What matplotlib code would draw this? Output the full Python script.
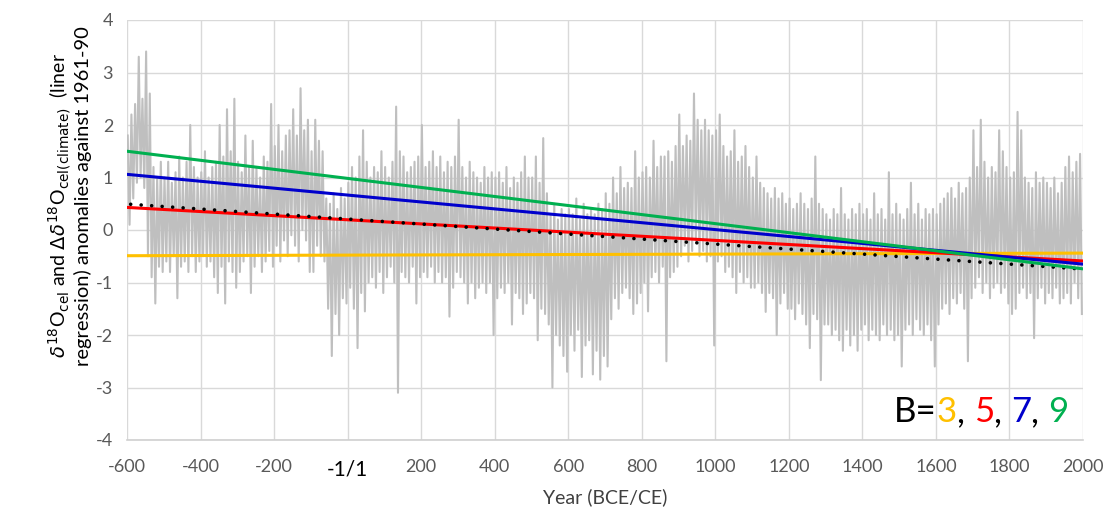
import numpy as np
import matplotlib
matplotlib.use("Agg")
import matplotlib.pyplot as plt
from matplotlib.offsetbox import TextArea, HPacker, AnchoredOffsetbox

# ---------------- data ----------------
decade_start = list(range(-600, 2000, 10))

# decadal upper extremes of the grey annual series
series_hi = [
    1.8, 2.2, 2.4, 3.3, 2.5, 3.4, 2.6, 1.2, 1.0, 1.3,      # -600
    1.0, 1.3, 0.9, 1.1, 1.4, 1.0, 1.3, 2.0, 1.2, 1.0,      # -500
    1.1, 1.5, 1.0, 1.2, 1.3, 2.0, 1.4, 2.3, 1.5, 2.5,      # -400
    1.3, 1.1, 1.8, 1.2, 1.7, 1.2, 1.0, 1.4, 1.3, 2.4,      # -300
    1.6, 2.0, 1.5, 1.8, 1.9, 2.3, 1.8, 2.7, 1.9, 2.1,      # -200
    1.5, 2.1, 1.7, 1.5, 0.6, 0.5, 0.7, 0.4, 0.8, 0.6,      # -100
    0.9, 1.2, 1.0, 1.4, 1.9, 1.3, 1.0, 1.2, 1.1, 1.5,      # 0
    1.2, 1.0, 1.3, 2.35, 1.5, 1.4, 1.1, 1.2, 1.3, 1.4,     # 100
    2.0, 1.2, 1.3, 1.5, 1.2, 1.4, 1.1, 1.3, 1.2, 1.4,      # 200
    2.1, 1.2, 1.0, 1.3, 1.1, 1.0, 0.9, 1.2, 1.0, 1.1,      # 300
    1.0, 1.1, 0.9, 1.2, 0.8, 1.0, 0.9, 1.1, 1.4, 1.0,      # 400
    1.0, 1.4, 0.9, 1.75, 0.7, 0.3, 0.5, 0.2, 0.4, 0.3,     # 500
    0.4, 0.3, 0.6, 0.2, 0.5, 0.3, 0.4, 0.3, 0.5, 0.4,      # 600
    0.7, 0.5, 1.0, 0.7, 1.2, 0.8, 0.9, 0.8, 1.5, 1.0,      # 700
    1.1, 1.2, 1.0, 1.7, 1.2, 1.4, 1.4, 1.5, 1.3, 1.6,      # 800
    2.2, 1.6, 1.8, 1.7, 2.6, 2.1, 1.9, 2.1, 1.9, 1.8,      # 900
    1.9, 2.2, 1.6, 1.4, 1.5, 1.9, 1.3, 1.4, 1.6, 1.2,      # 1000
    1.0, 1.4, 0.9, 0.8, 0.7, 0.6, 0.8, 0.6, 0.7, 0.5,      # 1100
    0.6, 0.4, 0.5, 0.7, 0.5, 0.4, 0.6, 1.4, 0.5, 0.4,      # 1200
    0.3, 0.2, 0.4, 0.3, 0.8, 0.3, 0.2, 0.4, 0.3, 0.5,      # 1300
    0.3, 0.4, 0.2, 0.7, 0.3, 0.4, 0.2, 1.1, 0.3, 0.5,      # 1400
    0.3, 0.2, 0.4, 0.9, 0.3, 0.5, 0.2, 0.4, 0.3, 0.4,      # 1500
    0.3, 0.5, 0.6, 0.7, 0.8, 0.6, 0.9, 0.7, 0.8, 1.0,      # 1600
    1.9, 1.2, 2.1, 1.3, 1.0, 1.2, 1.1, 1.9, 1.5, 1.2,      # 1700
    1.0, 1.1, 2.25, 1.9, 1.0, 0.9, 0.8, 1.1, 0.9, 1.0,     # 1800
    0.9, 0.8, 1.0, 0.7, 0.9, 1.2, 1.4, 1.1, 1.3, 1.45,     # 1900
]

# decadal lower extremes of the grey annual series
series_lo = [
    0.1, 0.6, 0.9, 1.0, 0.8, -0.5, -0.9, -1.4, -0.7, -0.8,        # -600
    -0.6, -0.8, -0.5, -1.3, -0.7, -0.6, -0.8, -0.5, -0.8, -0.6,   # -500
    -0.5, -0.7, -0.6, -0.9, -1.2, -0.7, -1.4, -0.6, -0.8, -1.1,   # -400
    -0.8, -0.6, -0.5, -1.2, -0.7, -0.5, -0.8, -0.6, -0.4, -0.7,   # -300
    -0.3, -0.6, -0.2, -0.5, -0.1, -0.3, -0.6, 0.0, -0.2, -0.8,    # -200
    -0.8, -0.3, -0.5, -0.6, -1.5, -2.4, -1.6, -2.0, -1.3, -1.4,   # -100
    -1.1, -1.5, -2.25, -1.2, -1.55, -1.0, -0.9, -1.1, -0.8, -1.2, # 0
    -0.9, -0.7, -1.0, -3.1, -0.8, -0.9, -1.0, -0.7, -1.4, -0.9,   # 100
    -0.8, -0.9, -0.7, -1.0, -0.8, -1.0, -0.9, -1.65, -1.1, -0.8,  # 200
    -0.9, -1.0, -1.4, -1.0, -1.3, -1.1, -1.0, -1.2, -1.0, -2.0,   # 300
    -1.3, -1.1, -1.2, -1.0, -1.8, -1.2, -1.3, -1.6, -1.4, -1.2,   # 400
    -1.3, -2.1, -1.5, -1.6, -1.8, -3.0, -2.0, -2.2, -2.4, -2.7,   # 500
    -2.0, -2.3, -1.9, -2.8, -2.2, -2.1, -2.75, -2.3, -2.85, -2.4, # 600
    -2.6, -1.7, -1.3, -1.5, -1.2, -1.1, -1.3, -1.6, -1.4, -1.2,   # 700
    -1.0, -1.55, -0.9, -0.8, -1.0, -0.7, -2.5, -0.9, -0.8, -0.7,  # 800
    -0.5, -0.3, -0.6, -0.4, -0.2, -0.5, -0.4, -0.6, -0.5, -2.2,   # 900
    -0.6, -0.5, -0.8, -0.7, -0.9, -1.2, -0.8, -1.0, -0.9, -1.1,   # 1000
    -1.1, -1.0, -1.2, -1.56, -1.2, -1.3, -2.0, -1.4, -1.2, -1.5,  # 1100
    -1.5, -1.7, -1.4, -1.6, -1.8, -2.25, -1.6, -1.7, -2.86, -1.8, # 1200
    -1.8, -2.0, -1.9, -2.1, -2.3, -1.9, -2.2, -2.0, -2.3, -1.9,   # 1300
    -1.8, -2.1, -1.9, -2.0, -2.1, -1.8, -2.0, -1.9, -2.1, -2.0,   # 1400
    -2.6, -1.9, -1.8, -2.0, -1.7, -1.9, -2.0, -1.8, -2.1, -2.6,   # 1500
    -1.8, -1.5, -1.4, -1.6, -1.3, -1.4, -1.2, -1.5, -2.5, -1.3,   # 1600
    -1.1, -0.9, -1.2, -1.0, -1.3, -1.1, -1.0, -1.2, -1.1, -1.4,   # 1700
    -1.6, -1.5, -1.2, -1.1, -1.3, -1.2, -2.06, -1.3, -1.1, -1.4,  # 1800
    -1.2, -1.3, -1.1, -1.4, -1.3, -1.2, -1.4, -1.0, -1.3, -1.6,   # 1900
]

# linear regression lines (start / end values)
reg_years = [-600, 2000]
reg_b3 = [-0.49, -0.44]
reg_b5 = [0.43, -0.59]
reg_b7 = [1.06, -0.65]
reg_b9 = [1.50, -0.74]
trend_years = [-590, 2000]
trend_vals = [0.49, -0.745]

x_ticks = list(range(-600, 2001, 200))
x_ticklabels = [str(t) if t != 0 else "-1/1" for t in x_ticks]
y_ticks = list(range(-4, 5))

# colours
c_grey = "#BFBFBF"
c_b3 = "#FFC000"
c_b5 = "#FF0000"
c_b7 = "#0000CC"
c_b9 = "#00B050"

# ---------------- figure ----------------
plt.rcParams["font.family"] = ["Lato", "DejaVu Sans"]
plt.rcParams["mathtext.fontset"] = "dejavusans"
plt.rcParams["axes.unicode_minus"] = False

fig = plt.figure(figsize=(11.06, 5.17), dpi=100)
ax = fig.add_axes([127 / 1106, 1 - 440 / 517, (1083 - 127) / 1106, 420 / 517])

ds = np.array(decade_start)
xs = np.column_stack([ds + 2, ds + 7]).ravel()
ys = np.column_stack([series_hi, series_lo]).ravel()
ax.plot(xs, ys, color=c_grey, lw=1.5, zorder=2)

ax.plot(reg_years, reg_b3, color=c_b3, lw=2.2, zorder=3)
ax.plot(reg_years, reg_b5, color=c_b5, lw=2.2, zorder=4)
ax.plot(trend_years, trend_vals, color="black", lw=2.6,
        linestyle=(0, (0.01, 2.9)), dash_capstyle="round", zorder=5)
ax.plot(reg_years, reg_b7, color=c_b7, lw=2.2, zorder=6)
ax.plot(reg_years, reg_b9, color=c_b9, lw=2.2, zorder=7)

ax.set_xlim(-600, 2000)
ax.set_ylim(-4, 4)
ax.set_xticks(x_ticks)
ax.set_xticklabels(x_ticklabels)
ax.set_yticks(y_ticks)
ax.grid(True, color="#D9D9D9", lw=1.0, zorder=0)
ax.set_axisbelow(True)
for s in ["top", "right", "left"]:
    ax.spines[s].set_visible(False)
ax.spines["bottom"].set_color("#D0D0D0")
ax.spines["bottom"].set_linewidth(1.2)
ax.tick_params(length=0, labelsize=13, labelcolor="#595959")
ax.tick_params(axis="x", pad=14)
ax.tick_params(axis="y", pad=10)
for lab in ax.get_xticklabels():
    if lab.get_text() == "-1/1":
        lab.set_color("black")
        lab.set_fontsize(15)

fig.text(0.5 * (127 + 1083) / 1106, 1 - 497 / 517, "Year (BCE/CE)",
         ha="center", va="center", fontsize=14, color="#404040")

fig.text(60 / 1106, 1 - 205 / 517,
         r"$\delta^{18}$O$_{\mathrm{cel}}$ and $\Delta\delta^{18}$O$_{\mathrm{cel(climate)}}$  (liner",
         rotation=90, ha="center", va="center", fontsize=14, color="black")
fig.text(83 / 1106, 1 - 196 / 517,
         "regression) anomalies against 1961-90",
         rotation=90, ha="center", va="center", fontsize=14.5, color="black")

parts = [("B=", "black"), ("3", c_b3), (", ", "black"), ("5", c_b5),
         (", ", "black"), ("7", c_b7), (", ", "black"), ("9", c_b9)]
boxes = [TextArea(t, textprops=dict(color=c, fontsize=25)) for t, c in parts]
pack = HPacker(children=boxes, align="baseline", pad=0, sep=0)
anch = AnchoredOffsetbox(loc="lower right", child=pack, frameon=False,
                         bbox_to_anchor=(1068 / 1106, 1 - 428 / 517),
                         bbox_transform=fig.transFigure, borderpad=0, pad=0)
ax.add_artist(anch)

fig.savefig("out.png", dpi=100)
